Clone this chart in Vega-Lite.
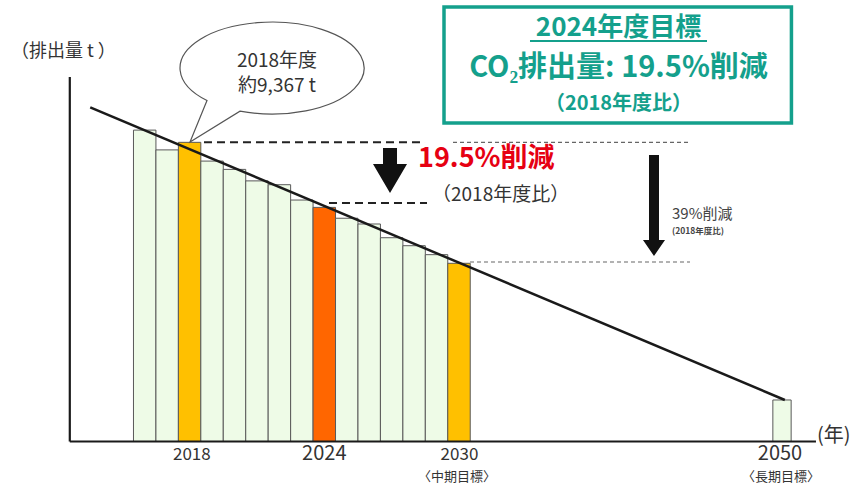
{
  "$schema": "https://vega.github.io/schema/vega-lite/v6.json",
  "width": 854,
  "height": 484,
  "autosize": {"type": "none"},
  "padding": 0,
  "background": "white",
  "config": {"view": {"stroke": null}, "text": {"font": "Noto Sans CJK JP"}},
  "datasets": {
    "bars": [
      {"year": 2016, "emissions": 9750, "kind": "other"},
      {"year": 2017, "emissions": 9130, "kind": "other"},
      {"year": 2018, "emissions": 9367, "kind": "base"},
      {"year": 2019, "emissions": 8780, "kind": "other"},
      {"year": 2020, "emissions": 8520, "kind": "other"},
      {"year": 2021, "emissions": 8160, "kind": "other"},
      {"year": 2022, "emissions": 8040, "kind": "other"},
      {"year": 2023, "emissions": 7560, "kind": "other"},
      {"year": 2024, "emissions": 7330, "kind": "current"},
      {"year": 2025, "emissions": 6990, "kind": "other"},
      {"year": 2026, "emissions": 6810, "kind": "other"},
      {"year": 2027, "emissions": 6380, "kind": "other"},
      {"year": 2028, "emissions": 6130, "kind": "other"},
      {"year": 2029, "emissions": 5850, "kind": "other"},
      {"year": 2030, "emissions": 5580, "kind": "goal"},
      {"year": 2050, "emissions": 1300, "kind": "other"}
    ]
  },
  "layer": [
    {
      "data": {"name": "bars"},
      "transform": [{"filter": "datum.year <= 2030"}],
      "mark": {"type": "bar", "orient": "vertical", "width": 22.45, "stroke": "#595959", "strokeWidth": 1},
      "encoding": {
        "x": {"field": "year", "type": "quantitative", "axis": null, "scale": {"domain": [2009.5546, 2016, 2030, 2050, 2054.458], "range": [0, 144.7, 459, 782, 854], "nice": false, "zero": false}},
        "y": {"field": "emissions", "type": "quantitative", "axis": null, "scale": {"domain": [-1330.7, 13823.4], "nice": false, "zero": false}},
        "y2": {"datum": 0},
        "color": {"field": "kind", "type": "nominal", "legend": null, "scale": {"domain": ["other", "base", "current", "goal"], "range": ["#eefbe7", "#ffc000", "#ff6600", "#ffc000"]}}
      }
    },
    {
      "data": {"name": "bars"},
      "transform": [{"filter": "datum.year == 2050"}],
      "mark": {"type": "bar", "orient": "vertical", "width": 18.3, "stroke": "#595959", "strokeWidth": 1},
      "encoding": {
        "x": {"field": "year", "type": "quantitative", "axis": null, "scale": {"domain": [2009.5546, 2016, 2030, 2050, 2054.458], "range": [0, 144.7, 459, 782, 854], "nice": false, "zero": false}},
        "y": {"field": "emissions", "type": "quantitative", "axis": null, "scale": {"domain": [-1330.7, 13823.4], "nice": false, "zero": false}},
        "y2": {"datum": 0},
        "color": {"field": "kind", "type": "nominal", "legend": null, "scale": {"domain": ["other", "base", "current", "goal"], "range": ["#eefbe7", "#ffc000", "#ff6600", "#ffc000"]}}
      }
    },
    {
      "data": {"values": [
        {"x": 2012.526, "y": 0, "x2": 2012.526, "y2": 11412},
        {"x": 2012.526, "y": 0, "x2": 2052.229, "y2": 0}
      ]},
      "mark": {"type": "rule", "stroke": "#1a1a1a", "strokeWidth": 2.2},
      "encoding": {
        "x": {"field": "x", "type": "quantitative", "axis": null, "scale": {"domain": [2009.5546, 2016, 2030, 2050, 2054.458], "range": [0, 144.7, 459, 782, 854], "nice": false, "zero": false}},
        "y": {"field": "y", "type": "quantitative", "axis": null, "scale": {"domain": [-1330.7, 13823.4], "nice": false, "zero": false}},
        "x2": {"field": "x2"},
        "y2": {"field": "y2"}
      }
    },
    {
      "data": {"values": [
        {"x": 2013.474, "y": 10464},
        {"x": 2050.186, "y": 1299}
      ]},
      "mark": {"type": "line", "stroke": "#1a1a1a", "strokeWidth": 2.5},
      "encoding": {
        "x": {"field": "x", "type": "quantitative", "axis": null, "scale": {"domain": [2009.5546, 2016, 2030, 2050, 2054.458], "range": [0, 144.7, 459, 782, 854], "nice": false, "zero": false}},
        "y": {"field": "y", "type": "quantitative", "axis": null, "scale": {"domain": [-1330.7, 13823.4], "nice": false, "zero": false}}
      }
    },
    {
      "data": {"values": [
        {"x": 2018.641, "x2": 2028.486, "y": 9367},
        {"x": 2024.209, "x2": 2028.575, "y": 7467}
      ]},
      "mark": {"type": "rule", "stroke": "#222222", "strokeWidth": 2, "strokeDash": [8, 5]},
      "encoding": {
        "x": {"field": "x", "type": "quantitative", "axis": null, "scale": {"domain": [2009.5546, 2016, 2030, 2050, 2054.458], "range": [0, 144.7, 459, 782, 854], "nice": false, "zero": false}},
        "y": {"field": "y", "type": "quantitative", "axis": null, "scale": {"domain": [-1330.7, 13823.4], "nice": false, "zero": false}},
        "x2": {"field": "x2"}
      }
    },
    {
      "data": {"values": [
        {"x": 2029.733, "x2": 2044.303, "y": 9367},
        {"x": 2030.681, "x2": 2044.303, "y": 5620}
      ]},
      "mark": {"type": "rule", "stroke": "#666666", "strokeWidth": 1.2, "strokeDash": [4, 3]},
      "encoding": {
        "x": {"field": "x", "type": "quantitative", "axis": null, "scale": {"domain": [2009.5546, 2016, 2030, 2050, 2054.458], "range": [0, 144.7, 459, 782, 854], "nice": false, "zero": false}},
        "y": {"field": "y", "type": "quantitative", "axis": null, "scale": {"domain": [-1330.7, 13823.4], "nice": false, "zero": false}},
        "x2": {"field": "x2"}
      }
    },
    {
      "data": {"values": [{"x": 2026.927, "y": 8485}]},
      "mark": {"type": "point", "shape": "M-0.311,-1L0.311,-1L0.311,-0.289L0.756,-0.289L0,1L-0.756,-0.289L-0.311,-0.289Z", "size": 2025, "filled": true, "fill": "#111111", "strokeWidth": 0, "opacity": 1},
      "encoding": {
        "x": {"field": "x", "type": "quantitative", "axis": null, "scale": {"domain": [2009.5546, 2016, 2030, 2050, 2054.458], "range": [0, 144.7, 459, 782, 854], "nice": false, "zero": false}},
        "y": {"field": "y", "type": "quantitative", "axis": null, "scale": {"domain": [-1330.7, 13823.4], "nice": false, "zero": false}}
      }
    },
    {
      "data": {"values": [{"x": 2042.074, "y": 7389}]},
      "mark": {"type": "point", "shape": "M-0.099,-1L0.099,-1L0.099,0.683L0.218,0.683L0,1L-0.218,0.683L-0.099,0.683Z", "size": 10201, "filled": true, "fill": "#111111", "strokeWidth": 0, "opacity": 1},
      "encoding": {
        "x": {"field": "x", "type": "quantitative", "axis": null, "scale": {"domain": [2009.5546, 2016, 2030, 2050, 2054.458], "range": [0, 144.7, 459, 782, 854], "nice": false, "zero": false}},
        "y": {"field": "y", "type": "quantitative", "axis": null, "scale": {"domain": [-1330.7, 13823.4], "nice": false, "zero": false}}
      }
    },
    {
      "data": {"values": [{"x": 2021.67, "y": 11694}]},
      "mark": {"type": "point", "shape": "M-0.7065,0.354A1,0.5,0,1,1,-0.348,0.469L-0.891,0.804Z", "size": 33856, "filled": true, "fill": "white", "stroke": "#555555", "strokeWidth": 1.2, "opacity": 1},
      "encoding": {
        "x": {"field": "x", "type": "quantitative", "axis": null, "scale": {"domain": [2009.5546, 2016, 2030, 2050, 2054.458], "range": [0, 144.7, 459, 782, 854], "nice": false, "zero": false}},
        "y": {"field": "y", "type": "quantitative", "axis": null, "scale": {"domain": [-1330.7, 13823.4], "nice": false, "zero": false}}
      }
    },
    {
      "data": {"values": [
        {"x": 2021.893, "y": 11913, "label": "2018年度"},
        {"x": 2021.893, "y": 11131, "label": "約9,367 t"}
      ]},
      "mark": {"type": "text", "fontSize": 19, "color": "#333333", "align": "center", "baseline": "middle"},
      "encoding": {
        "x": {"field": "x", "type": "quantitative", "axis": null, "scale": {"domain": [2009.5546, 2016, 2030, 2050, 2054.458], "range": [0, 144.7, 459, 782, 854], "nice": false, "zero": false}},
        "y": {"field": "y", "type": "quantitative", "axis": null, "scale": {"domain": [-1330.7, 13823.4], "nice": false, "zero": false}},
        "text": {"field": "label"}
      }
    },
    {
      "data": {"values": [{"x": 2012.227, "y": 12195, "label": "（排出量 t ）"}]},
      "mark": {"type": "text", "fontSize": 18, "color": "#333333", "align": "center", "baseline": "middle"},
      "encoding": {
        "x": {"field": "x", "type": "quantitative", "axis": null, "scale": {"domain": [2009.5546, 2016, 2030, 2050, 2054.458], "range": [0, 144.7, 459, 782, 854], "nice": false, "zero": false}},
        "y": {"field": "y", "type": "quantitative", "axis": null, "scale": {"domain": [-1330.7, 13823.4], "nice": false, "zero": false}},
        "text": {"field": "label"}
      }
    },
    {
      "data": {"values": [{"x": 2028.174, "y": 8845, "label": "19.5%削減"}]},
      "mark": {"type": "text", "fontSize": 27, "fontWeight": "bold", "color": "#e60012", "align": "left", "baseline": "middle"},
      "encoding": {
        "x": {"field": "x", "type": "quantitative", "axis": null, "scale": {"domain": [2009.5546, 2016, 2030, 2050, 2054.458], "range": [0, 144.7, 459, 782, 854], "nice": false, "zero": false}},
        "y": {"field": "y", "type": "quantitative", "axis": null, "scale": {"domain": [-1330.7, 13823.4], "nice": false, "zero": false}},
        "text": {"field": "label"}
      }
    },
    {
      "data": {"values": [{"x": 2028.797, "y": 7718, "label": "（2018年度比）"}]},
      "mark": {"type": "text", "fontSize": 19, "color": "#333333", "align": "left", "baseline": "middle"},
      "encoding": {
        "x": {"field": "x", "type": "quantitative", "axis": null, "scale": {"domain": [2009.5546, 2016, 2030, 2050, 2054.458], "range": [0, 144.7, 459, 782, 854], "nice": false, "zero": false}},
        "y": {"field": "y", "type": "quantitative", "axis": null, "scale": {"domain": [-1330.7, 13823.4], "nice": false, "zero": false}},
        "text": {"field": "label"}
      }
    },
    {
      "data": {"values": [{"x": 2043.189, "y": 7123, "label": "39%削減"}]},
      "mark": {"type": "text", "fontSize": 15, "color": "#444444", "align": "left", "baseline": "middle"},
      "encoding": {
        "x": {"field": "x", "type": "quantitative", "axis": null, "scale": {"domain": [2009.5546, 2016, 2030, 2050, 2054.458], "range": [0, 144.7, 459, 782, 854], "nice": false, "zero": false}},
        "y": {"field": "y", "type": "quantitative", "axis": null, "scale": {"domain": [-1330.7, 13823.4], "nice": false, "zero": false}},
        "text": {"field": "label"}
      }
    },
    {
      "data": {"values": [{"x": 2043.189, "y": 6591, "label": "(2018年度比)"}]},
      "mark": {"type": "text", "fontSize": 8.5, "fontWeight": "bold", "color": "#444444", "align": "left", "baseline": "middle"},
      "encoding": {
        "x": {"field": "x", "type": "quantitative", "axis": null, "scale": {"domain": [2009.5546, 2016, 2030, 2050, 2054.458], "range": [0, 144.7, 459, 782, 854], "nice": false, "zero": false}},
        "y": {"field": "y", "type": "quantitative", "axis": null, "scale": {"domain": [-1330.7, 13823.4], "nice": false, "zero": false}},
        "text": {"field": "label"}
      }
    },
    {
      "data": {"values": [{"x": 2029.332, "x2": 2050.619, "y": 9972, "y2": 13604}]},
      "mark": {"type": "rect", "fill": "white", "stroke": "#14a08c", "strokeWidth": 3.5},
      "encoding": {
        "x": {"field": "x", "type": "quantitative", "axis": null, "scale": {"domain": [2009.5546, 2016, 2030, 2050, 2054.458], "range": [0, 144.7, 459, 782, 854], "nice": false, "zero": false}},
        "y": {"field": "y", "type": "quantitative", "axis": null, "scale": {"domain": [-1330.7, 13823.4], "nice": false, "zero": false}},
        "x2": {"field": "x2"},
        "y2": {"field": "y2"}
      }
    },
    {
      "data": {"values": [{"x": 2034.396, "x2": 2045.356, "y": 12540}]},
      "mark": {"type": "rule", "stroke": "#14a08c", "strokeWidth": 2},
      "encoding": {
        "x": {"field": "x", "type": "quantitative", "axis": null, "scale": {"domain": [2009.5546, 2016, 2030, 2050, 2054.458], "range": [0, 144.7, 459, 782, 854], "nice": false, "zero": false}},
        "y": {"field": "y", "type": "quantitative", "axis": null, "scale": {"domain": [-1330.7, 13823.4], "nice": false, "zero": false}},
        "x2": {"field": "x2"}
      }
    },
    {
      "data": {"values": [{"x": 2039.876, "y": 12947, "label": "2024年度目標"}]},
      "mark": {"type": "text", "fontSize": 26, "fontWeight": "bold", "color": "#14a08c", "align": "center", "baseline": "middle"},
      "encoding": {
        "x": {"field": "x", "type": "quantitative", "axis": null, "scale": {"domain": [2009.5546, 2016, 2030, 2050, 2054.458], "range": [0, 144.7, 459, 782, 854], "nice": false, "zero": false}},
        "y": {"field": "y", "type": "quantitative", "axis": null, "scale": {"domain": [-1330.7, 13823.4], "nice": false, "zero": false}},
        "text": {"field": "label"}
      }
    },
    {
      "data": {"values": [{"x": 2039.876, "y": 11680, "label": "CO₂排出量: 19.5%削減"}]},
      "mark": {"type": "text", "fontSize": 29, "fontWeight": "bold", "color": "#14a08c", "align": "center", "baseline": "middle"},
      "encoding": {
        "x": {"field": "x", "type": "quantitative", "axis": null, "scale": {"domain": [2009.5546, 2016, 2030, 2050, 2054.458], "range": [0, 144.7, 459, 782, 854], "nice": false, "zero": false}},
        "y": {"field": "y", "type": "quantitative", "axis": null, "scale": {"domain": [-1330.7, 13823.4], "nice": false, "zero": false}},
        "text": {"field": "label"}
      }
    },
    {
      "data": {"values": [{"x": 2039.876, "y": 10580, "label": "（2018年度比）"}]},
      "mark": {"type": "text", "fontSize": 20, "fontWeight": "bold", "color": "#14a08c", "align": "center", "baseline": "middle"},
      "encoding": {
        "x": {"field": "x", "type": "quantitative", "axis": null, "scale": {"domain": [2009.5546, 2016, 2030, 2050, 2054.458], "range": [0, 144.7, 459, 782, 854], "nice": false, "zero": false}},
        "y": {"field": "y", "type": "quantitative", "axis": null, "scale": {"domain": [-1330.7, 13823.4], "nice": false, "zero": false}},
        "text": {"field": "label"}
      }
    },
    {
      "data": {"values": [
        {"x": 2018.1, "y": -423, "label": "2018"},
        {"x": 2030.03, "y": -423, "label": "2030"}
      ]},
      "mark": {"type": "text", "fontSize": 17, "color": "#333333", "align": "center", "baseline": "middle"},
      "encoding": {
        "x": {"field": "x", "type": "quantitative", "axis": null, "scale": {"domain": [2009.5546, 2016, 2030, 2050, 2054.458], "range": [0, 144.7, 459, 782, 854], "nice": false, "zero": false}},
        "y": {"field": "y", "type": "quantitative", "axis": null, "scale": {"domain": [-1330.7, 13823.4], "nice": false, "zero": false}},
        "text": {"field": "label"}
      }
    },
    {
      "data": {"values": [
        {"x": 2024.0, "y": -390, "label": "2024"},
        {"x": 2049.876, "y": -390, "label": "2050"}
      ]},
      "mark": {"type": "text", "fontSize": 20, "color": "#333333", "align": "center", "baseline": "middle"},
      "encoding": {
        "x": {"field": "x", "type": "quantitative", "axis": null, "scale": {"domain": [2009.5546, 2016, 2030, 2050, 2054.458], "range": [0, 144.7, 459, 782, 854], "nice": false, "zero": false}},
        "y": {"field": "y", "type": "quantitative", "axis": null, "scale": {"domain": [-1330.7, 13823.4], "nice": false, "zero": false}},
        "text": {"field": "label"}
      }
    },
    {
      "data": {"values": [
        {"x": 2029.91, "y": -1110, "label": "〈中期目標〉"},
        {"x": 2049.94, "y": -1110, "label": "〈長期目標〉"}
      ]},
      "mark": {"type": "text", "fontSize": 13, "color": "#333333", "align": "center", "baseline": "middle"},
      "encoding": {
        "x": {"field": "x", "type": "quantitative", "axis": null, "scale": {"domain": [2009.5546, 2016, 2030, 2050, 2054.458], "range": [0, 144.7, 459, 782, 854], "nice": false, "zero": false}},
        "y": {"field": "y", "type": "quantitative", "axis": null, "scale": {"domain": [-1330.7, 13823.4], "nice": false, "zero": false}},
        "text": {"field": "label"}
      }
    },
    {
      "data": {"values": [{"x": 2052.29, "y": 172, "label": "(年)"}]},
      "mark": {"type": "text", "fontSize": 20, "color": "#333333", "align": "left", "baseline": "middle"},
      "encoding": {
        "x": {"field": "x", "type": "quantitative", "axis": null, "scale": {"domain": [2009.5546, 2016, 2030, 2050, 2054.458], "range": [0, 144.7, 459, 782, 854], "nice": false, "zero": false}},
        "y": {"field": "y", "type": "quantitative", "axis": null, "scale": {"domain": [-1330.7, 13823.4], "nice": false, "zero": false}},
        "text": {"field": "label"}
      }
    }
  ]
}
